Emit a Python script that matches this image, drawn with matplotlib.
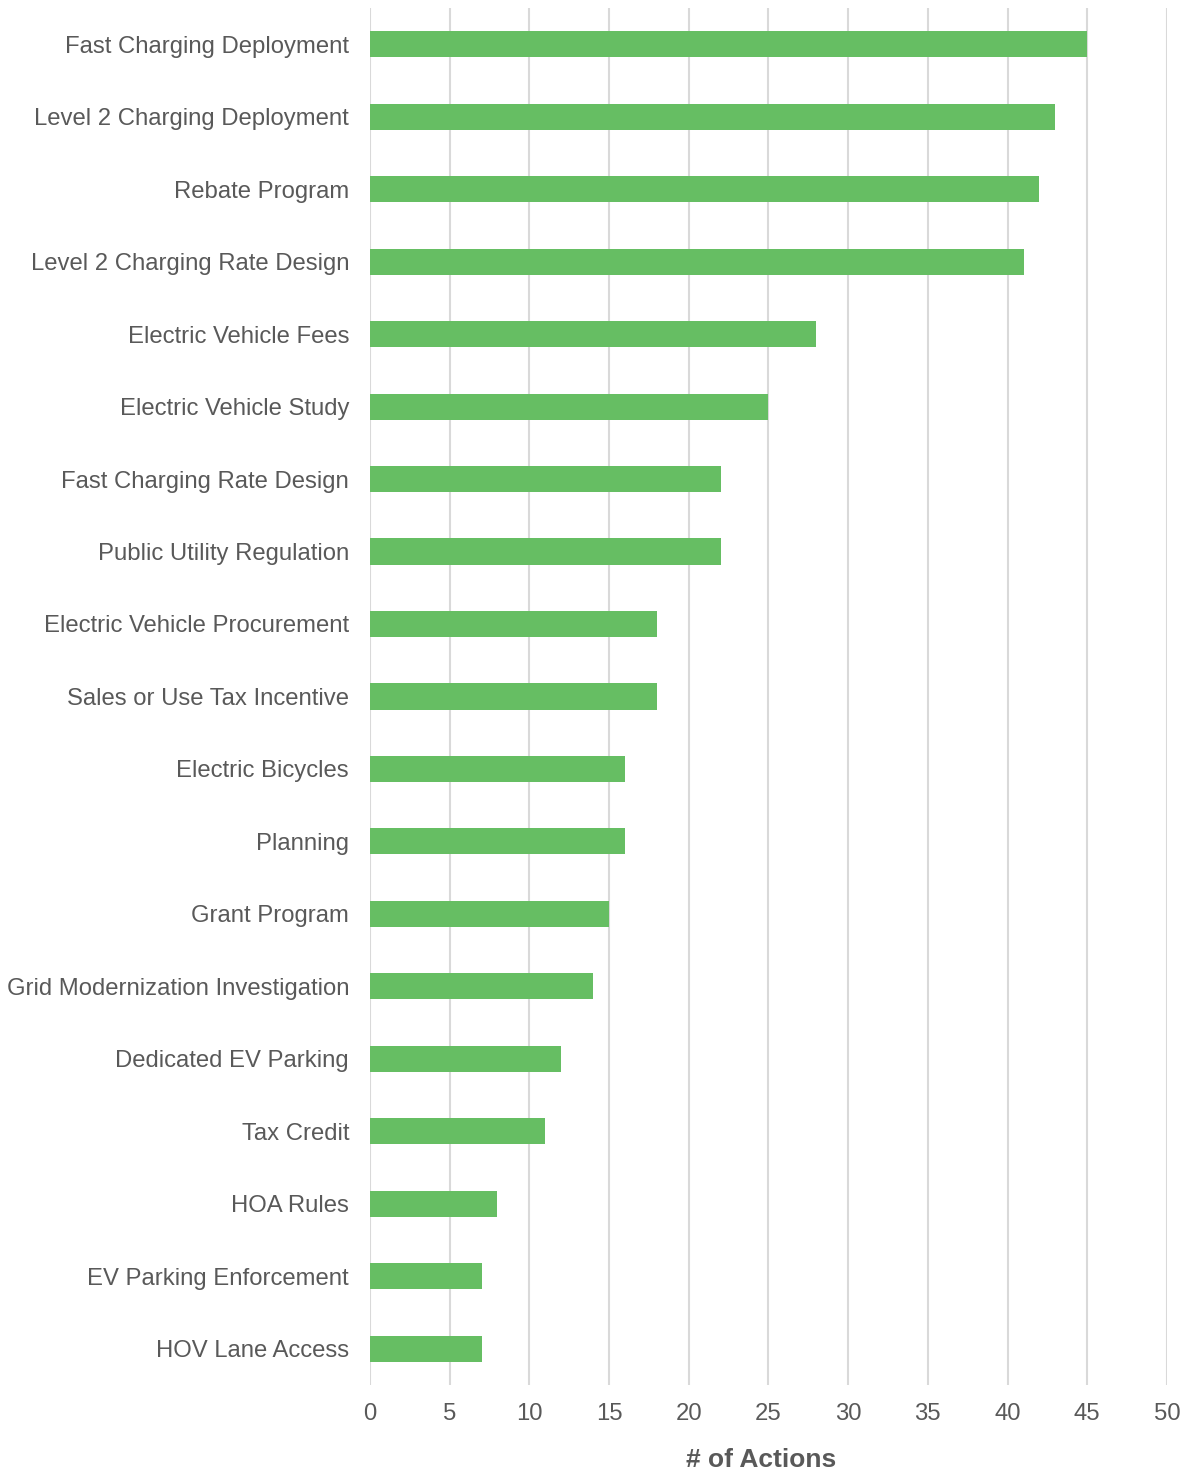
import matplotlib
matplotlib.use("Agg")
import matplotlib.pyplot as plt

# Data
categories = [
    "Fast Charging Deployment",
    "Level 2 Charging Deployment",
    "Rebate Program",
    "Level 2 Charging Rate Design",
    "Electric Vehicle Fees",
    "Electric Vehicle Study",
    "Fast Charging Rate Design",
    "Public Utility Regulation",
    "Electric Vehicle Procurement",
    "Sales or Use Tax Incentive",
    "Electric Bicycles",
    "Planning",
    "Grant Program",
    "Grid Modernization Investigation",
    "Dedicated EV Parking",
    "Tax Credit",
    "HOA Rules",
    "EV Parking Enforcement",
    "HOV Lane Access",
]
actions = [45, 43, 42, 41, 28, 25, 22, 22, 18, 18, 16, 16, 15, 14, 12, 11, 8, 7, 7]
xticks = [0, 5, 10, 15, 20, 25, 30, 35, 40, 45, 50]

plt.rcParams["font.family"] = ["Liberation Sans", "DejaVu Sans"]
text_color = "#595959"

fig = plt.figure(figsize=(11.88, 14.74), dpi=100)
ax = fig.add_axes([0.3114, 0.0604, 0.6709, 0.9342])

ypos = list(range(len(categories)))
ax.barh(ypos, actions, height=0.36, color="#66BE63", zorder=3)

ax.set_ylim(len(categories) - 0.5, -0.5)
ax.set_xlim(0, 50)
ax.set_xticks(xticks)
ax.set_yticks(ypos)
ax.set_yticklabels(categories)

ax.grid(axis="x", color="#d9d9d9", linewidth=1.5, zorder=0)
for s in ax.spines.values():
    s.set_visible(False)

ax.tick_params(axis="both", length=0, labelsize=17.2, labelcolor=text_color)
ax.tick_params(axis="y", pad=15)
ax.tick_params(axis="x", pad=13)

# bold axis title, sits a bit left of the axes centre like the original
ax.set_xlabel("# of Actions", fontsize=19, fontweight="bold", color=text_color)
ax.xaxis.set_label_coords(0.491, -0.0455)

fig.savefig("out.png", dpi=100)
